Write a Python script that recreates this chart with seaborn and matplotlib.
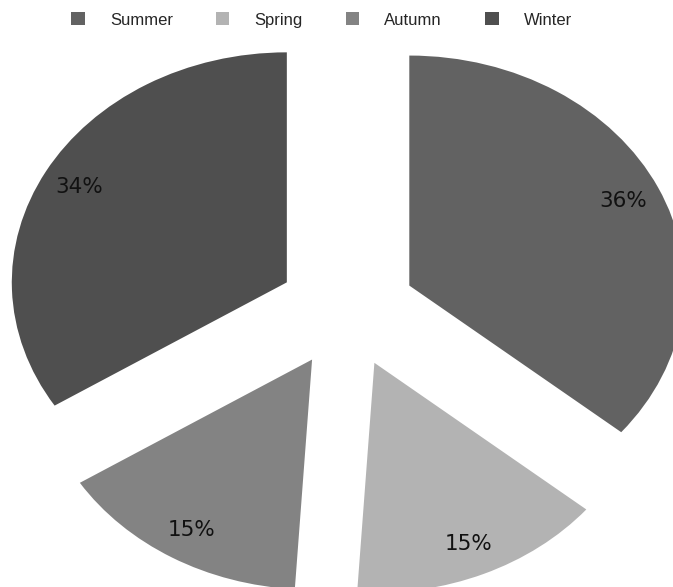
import matplotlib
matplotlib.use("Agg")
import matplotlib.pyplot as plt
import seaborn as sns

seasons = ["Summer", "Spring", "Autumn", "Winter"]
shares = [36, 15, 15, 34]
colors = ["#626262", "#b3b3b3", "#838383", "#4f4f4f"]
explode = [0.25, 0.25, 0.25, 0.25]

sns.set_theme(style="white")
plt.rcParams["font.family"] = ["DejaVu Sans"]

fig = plt.figure(figsize=(6.73, 5.87), dpi=100)
ax = fig.add_axes([0, 0, 1, 1])

wedges, texts, autotexts = ax.pie(
    shares,
    colors=colors,
    explode=explode,
    startangle=90,
    counterclock=False,
    autopct="%d%%",
    pctdistance=0.86,
    textprops=dict(color="#111111", fontsize=15.5, family="DejaVu Sans"),
    wedgeprops=dict(linewidth=0),
)
ax.set_aspect("auto")
ax.set_xlim(-1.262, 1.185)
ax.set_ylim(-1.204, 1.348)
ax.axis("off")

leg = fig.legend(
    wedges, seasons,
    loc="center", bbox_to_anchor=(0.478, 0.966),
    ncol=4, frameon=False,
    handlelength=0.8, handleheight=0.8,
    handletextpad=1.5, columnspacing=2.6,
    prop=dict(family="Liberation Sans", size=12),
)

fig.savefig("out.png", dpi=100, facecolor="white")
